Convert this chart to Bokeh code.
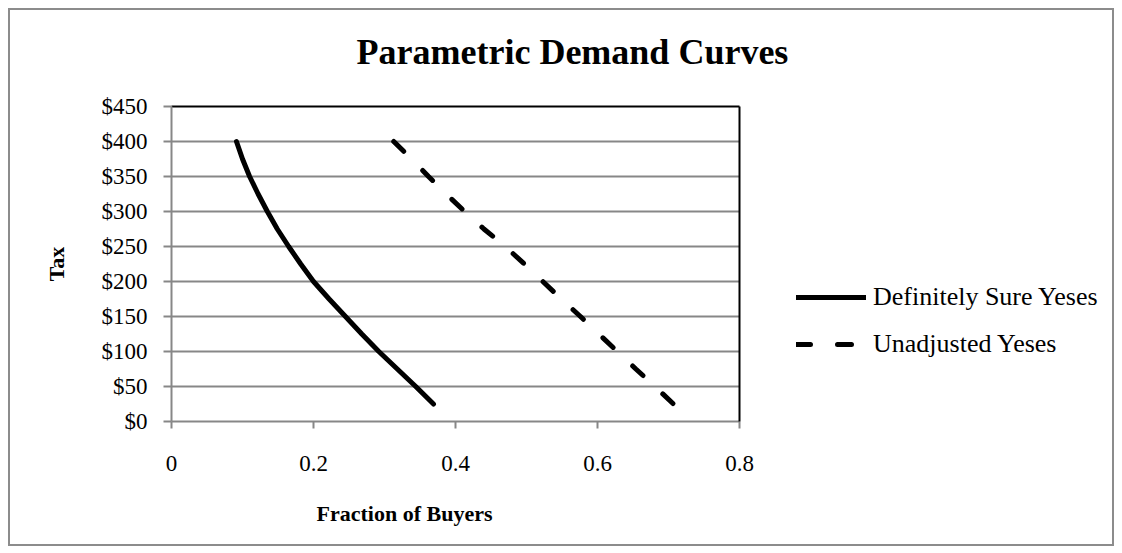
from bokeh.plotting import figure
from bokeh.layouts import row
from bokeh.models import (Range1d, FixedTicker, NumeralTickFormatter, LinearAxis,
                          Legend, LegendItem, Title)
from bokeh.embed import file_html
from bokeh.resources import INLINE

# ---- data ----
tax = [400, 375, 350, 325, 300, 275, 250, 225, 200, 175, 150, 125, 100, 75, 50, 25]
sure_yeses = [0.0915, 0.100, 0.110, 0.122, 0.135, 0.149, 0.165, 0.182, 0.200,
              0.222, 0.245, 0.268, 0.292, 0.318, 0.344, 0.369]
unadjusted_yeses = [0.313, 0.338, 0.362, 0.387, 0.413, 0.440, 0.470, 0.497, 0.523,
                    0.549, 0.576, 0.602, 0.628, 0.654, 0.681, 0.707]
series_names = ["Definitely Sure Yeses", "Unadjusted Yeses"]
x_ticks = [0, 0.2, 0.4, 0.6, 0.8]
y_ticks = [0, 50, 100, 150, 200, 250, 300, 350, 400, 450]

FONT = "Liberation Serif"
GRID = "#878787"
DASH = "14 27"

p = figure(width=786, height=534, output_backend="svg", toolbar_location=None,
           x_range=Range1d(0, 0.8), y_range=Range1d(0, 450),
           min_border_left=161, min_border_top=96, min_border_bottom=123,
           min_border_right=57, title=None)
p.outline_line_color = None
p.background_fill_color = "white"
p.border_fill_color = "white"

# axes
p.xaxis.ticker = FixedTicker(ticks=x_ticks)
p.xaxis.formatter = NumeralTickFormatter(format="0.[0]")
p.yaxis.ticker = FixedTicker(ticks=y_ticks)
p.yaxis.formatter = NumeralTickFormatter(format="$0")
for ax in (p.xaxis[0], p.yaxis[0]):
    ax.axis_line_color = GRID
    ax.axis_line_width = 2
    ax.major_tick_line_color = GRID
    ax.major_tick_line_width = 2
    ax.major_tick_in = 0
    ax.minor_tick_line_color = None
    ax.major_label_text_font = FONT
    ax.major_label_text_font_size = "23px"
    ax.major_label_text_color = "black"
p.xaxis.major_tick_out = 7
p.xaxis.major_label_standoff = 27
p.yaxis.major_tick_out = 8
p.yaxis.major_label_standoff = 16
p.yaxis.axis_label = "Tax"
p.yaxis.axis_label_text_font = FONT
p.yaxis.axis_label_text_font_style = "bold"
p.yaxis.axis_label_text_font_size = "22px"
p.yaxis.axis_label_text_color = "black"
p.yaxis.axis_label_standoff = 30

# top / right frame borders in black
for side in ("above", "right"):
    a = LinearAxis(ticker=FixedTicker(ticks=[]), axis_line_color="black",
                   axis_line_width=2, major_tick_line_color=None,
                   minor_tick_line_color=None, major_label_text_font_size="0px",
                   major_label_standoff=0)
    p.add_layout(a, side)

p.xgrid.grid_line_color = None
p.ygrid.grid_line_color = GRID
p.ygrid.grid_line_width = 2

# lines
p.line(sure_yeses, tax, line_color="black", line_width=5, line_cap="round")
p.line(unadjusted_yeses, tax, line_color="black", line_width=5,
       line_cap="round", line_dash=DASH)

# titles (blank spacer titles keep the real ones away from the frame)
p.add_layout(Title(text=" ", text_font=FONT, text_font_size="20px",
                   standoff=11), "above")
p.add_layout(Title(text="Parametric Demand Curves", text_font=FONT,
                   text_font_size="36px", text_font_style="bold",
                   text_color="black", align="left", offset=185, standoff=0),
             "above")
p.add_layout(Title(text=" ", text_font=FONT, text_font_size="12px",
                   standoff=9), "below")
p.add_layout(Title(text="Fraction of Buyers", text_font=FONT,
                   text_font_size="22px", text_font_style="bold",
                   text_color="black", align="left", offset=145, standoff=0),
             "below")

# legend panel (separate figure to the right of the chart); its ranges are set
# away from the data so the key lines themselves stay out of view
p2 = figure(width=316, height=534, output_backend="svg", toolbar_location=None,
            x_range=Range1d(5, 6), y_range=Range1d(1000, 1001),
            x_axis_location=None, y_axis_location=None,
            min_border_left=0, min_border_right=0, min_border_bottom=0,
            min_border_top=0, title=None)
p2.outline_line_color = None
p2.grid.visible = False
p2.background_fill_color = "white"
p2.border_fill_color = "white"
k1 = p2.line(sure_yeses, tax, line_color="black", line_width=5, line_cap="round")
k2 = p2.line(unadjusted_yeses, tax, line_color="black", line_width=5,
             line_cap="round", line_dash=DASH)
legend = Legend(items=[LegendItem(label=series_names[0], renderers=[k1]),
                       LegendItem(label=series_names[1], renderers=[k2])],
                location=(0, 62), orientation="vertical")
legend.label_text_font = FONT
legend.label_text_font_size = "26px"
legend.label_text_color = "black"
legend.glyph_width = 70
legend.glyph_height = 26
legend.label_height = 26
legend.label_standoff = 7
legend.spacing = 17
legend.padding = 2
legend.margin = 0
legend.border_line_color = None
legend.background_fill_alpha = 0
p2.add_layout(legend, "center")

layout = row(p, p2, spacing=0)
layout.margin = (8, 0, 0, 8)
layout.styles = {"border": "2px solid #8c8c8c"}

open("out.html", "w").write(file_html(layout, INLINE))
